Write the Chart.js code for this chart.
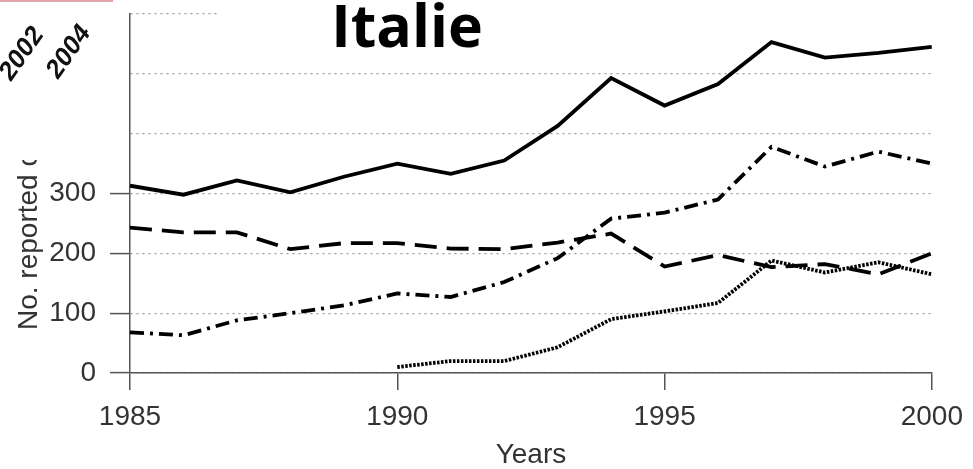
<!DOCTYPE html>
<html>
<head>
<meta charset="utf-8">
<script src="https://cdn.jsdelivr.net/npm/chart.js@4/dist/chart.umd.min.js"></script>
<style>
html, body { margin: 0; padding: 0; background: #fff; }
#wrap { position: relative; width: 973px; height: 469px; }
</style>
</head>
<body>
<div id="wrap"><canvas id="italyChart"></canvas></div>
<script>
// reported cases per year, four series
const years = [1985, 1986, 1987, 1988, 1989, 1990, 1991, 1992, 1993, 1994, 1995, 1996, 1997, 1998, 1999, 2000];
const seriesA = [313, 298, 322, 302, 328, 350, 333, 355, 413, 493, 447, 483, 553, 527, 535, 545];
const seriesB = [243, 235, 235, 207, 217, 217, 208, 207, 218, 233, 178, 197, 177, 182, 165, 200];
const seriesC = [68, 63, 88, 100, 113, 133, 127, 152, 192, 258, 268, 290, 378, 345, 370, 350];
const seriesD = [null, null, null, null, null, 10, 20, 20, 43, 90, 103, 117, 188, 168, 185, 165];
const yTickLabels = [0, 100, 200, 300];
const xTickLabels = [1985, 1990, 1995, 2000];

const pts = arr => years.map((yr, i) => ({ x: yr, y: arr[i] }));

const axisFont = { family: 'Liberation Sans, Arial, sans-serif', size: 28 };
const textCol = '#333';
const axisCol = '#555';

function line(label, arr, dash, width) {
  return {
    label: label,
    data: pts(arr),
    borderColor: '#000',
    borderWidth: width,
    borderDash: dash,
    pointRadius: 0,
    tension: 0,
    fill: false
  };
}

// title, cut-off axis label and the corner stamp
const overlay = {
  id: 'overlay',
  afterDraw(chart) {
    const c = chart.ctx;
    c.save();
    c.fillStyle = '#fff';
    c.fillRect(220, 0, 753, 28);

    c.fillStyle = '#000';
    c.font = 'bold 59px "Open Sans", sans-serif';
    c.textAlign = 'center';
    c.textBaseline = 'alphabetic';
    c.fillText('Italie', 407, 47);

    // y title, upper part hidden by the stamp box
    c.save();
    c.beginPath();
    c.rect(0, 160, 110, 309);
    c.clip();
    c.translate(37, 330);
    c.rotate(-Math.PI / 2);
    c.fillStyle = textCol;
    c.font = '28px "Liberation Sans", Arial, sans-serif';
    c.textAlign = 'left';
    c.fillText('No. reported cases', 0, 0);
    c.restore();

    c.fillStyle = '#e3a3ad';
    c.fillRect(0, 0, 113, 2);

    c.fillStyle = '#111';
    c.font = 'italic bold 26px "Liberation Sans", Arial, sans-serif';
    c.textAlign = 'center';
    c.textBaseline = 'middle';
    [['2002', 22, 54], ['2004', 69, 52]].forEach(([t, x, y]) => {
      c.save();
      c.translate(x, y);
      c.rotate(-55 * Math.PI / 180);
      c.fillText(t, 0, 0);
      c.restore();
    });
    c.restore();
  }
};

const ctx = document.getElementById('italyChart');

new Chart(ctx, {
  type: 'line',
  data: {
    datasets: [
      line('A', seriesA, [], 3.8),
      line('B', seriesB, [22, 10], 3.8),
      line('C', seriesC, [14, 6, 3, 6], 3.8),
      line('D', seriesD, [2.5, 1.5], 3.8)
    ]
  },
  options: {
    responsive: true,
    maintainAspectRatio: false,
    animation: false,
    layout: { padding: { top: 14, right: 41, left: 0, bottom: 0 } },
    plugins: {
      legend: { display: false },
      tooltip: { enabled: false }
    },
    scales: {
      x: {
        type: 'linear',
        min: 1985,
        max: 2000,
        afterBuildTicks: s => { s.ticks = xTickLabels.map(v => ({ value: v })); },
        ticks: {
          color: textCol,
          font: axisFont,
          padding: 10,
          maxRotation: 0,
          callback: v => String(v)
        },
        grid: {
          drawOnChartArea: false,
          drawTicks: true,
          tickLength: 17,
          color: axisCol,
          lineWidth: 1.5
        },
        border: { color: axisCol, width: 1.5 },
        title: {
          display: true,
          text: 'Years',
          color: textCol,
          font: axisFont,
          padding: { top: 0, bottom: -3 }
        },
        afterFit: s => { s.height = 96; }
      },
      y: {
        min: 0,
        max: 600,
        ticks: {
          stepSize: 100,
          color: textCol,
          font: axisFont,
          padding: 14,
          callback: v => yTickLabels.includes(v) ? String(v) : ''
        },
        grid: {
          color: '#9a9a9a',
          lineWidth: 1.2,
          tickLength: 20,
          tickColor: c => yTickLabels.includes(c.tick.value) ? axisCol : 'rgba(0,0,0,0)',
          tickWidth: 1.5
        },
        border: { color: axisCol, width: 1.5, dash: [2, 4] },
        afterFit: s => { s.width = 130; s.paddingTop = 0; s.paddingBottom = 0; }
      }
    }
  },
  plugins: [overlay]
});
</script>
</body>
</html>
